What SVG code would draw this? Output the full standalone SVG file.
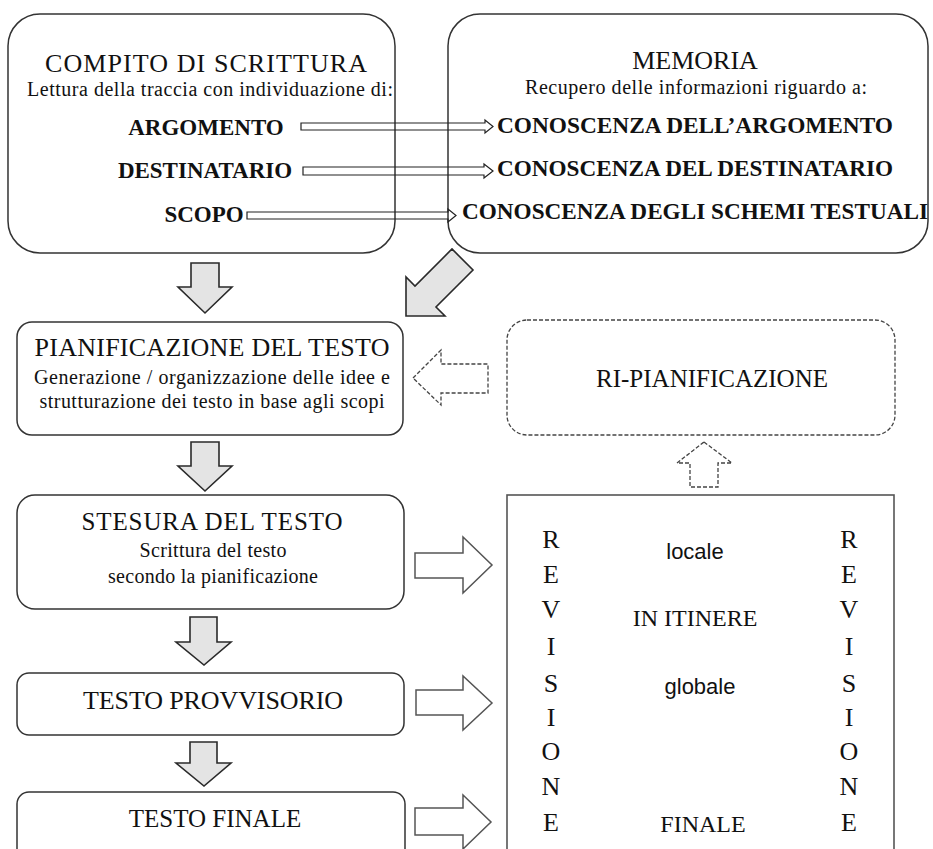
<svg xmlns="http://www.w3.org/2000/svg" width="933" height="849" viewBox="0 0 933 849">
<style>
.box{fill:#fff;stroke:#333;stroke-width:1.5}
.dbox{fill:#fff;stroke:#444;stroke-width:1.3;stroke-dasharray:4 2}
.rbox{fill:#fff;stroke:#555;stroke-width:1.6}
.garrow{fill:#e4e4e4;stroke:#2a2a2a;stroke-width:1.6;stroke-linejoin:miter}
.warrow{fill:#fff;stroke:#555;stroke-width:1.5}
.darrow{fill:#fff;stroke:#444;stroke-width:1.3;stroke-dasharray:4 2}
.tarrow{fill:none;stroke:#222;stroke-width:1.2}
.serif{font-family:'Liberation Serif','Times New Roman','DejaVu Serif',serif}
text{fill:#111;text-anchor:middle}
.title{font-size:26px}
.sub{font-size:20px}
.bold{font-size:23px;font-weight:bold}
.sans{font-family:'Liberation Sans',Arial,sans-serif;font-size:22px}
.let{font-size:26px}
</style>
<g class="serif" font-family="Liberation Serif, Times New Roman, DejaVu Serif, serif">
<g id="compito">
<rect class="box" x="8" y="14" width="387" height="239" rx="32"/>
<text class="title" x="206" y="72" textLength="322" lengthAdjust="spacing">COMPITO  DI  SCRITTURA</text>
<text class="sub" x="210" y="96" textLength="366" lengthAdjust="spacing">Lettura della traccia con individuazione di:</text>
<text class="bold" x="206" y="135">ARGOMENTO</text>
<text class="bold" x="205" y="178">DESTINATARIO</text>
<text class="bold" x="204" y="222">SCOPO</text>
</g>
<g id="memoria">
<rect class="box" x="448" y="14" width="480" height="239" rx="32"/>
<text class="title" x="695" y="69">MEMORIA</text>
<text class="sub" x="696" y="94" textLength="342" lengthAdjust="spacing">Recupero delle informazioni riguardo a:</text>
<text class="bold" x="695" y="133" textLength="396" lengthAdjust="spacingAndGlyphs">CONOSCENZA DELL’ARGOMENTO</text>
<text class="bold" x="695" y="176" textLength="396" lengthAdjust="spacingAndGlyphs">CONOSCENZA DEL DESTINATARIO</text>
<text class="bold" x="695" y="219" textLength="466" lengthAdjust="spacingAndGlyphs">CONOSCENZA DEGLI SCHEMI TESTUALI</text>
</g>
<g id="pianificazione">
<rect class="box" x="17" y="322" width="386" height="113" rx="15"/>
<text class="title" x="212" y="356" textLength="355" lengthAdjust="spacing">PIANIFICAZIONE  DEL  TESTO</text>
<text class="sub" x="212" y="384" textLength="356" lengthAdjust="spacing">Generazione / organizzazione  delle idee e</text>
<text class="sub" x="212" y="408" textLength="345" lengthAdjust="spacing">strutturazione  dei testo in base agli scopi</text>
</g>
<g id="ripianificazione">
<rect class="dbox" x="507" y="320" width="388" height="115" rx="20"/>
<text class="title" x="712" y="387" style="font-size:25px">RI-PIANIFICAZIONE</text>
</g>
<g id="stesura">
<rect class="box" x="17" y="495" width="387" height="114" rx="18"/>
<text class="title" x="212" y="530" style="font-size:25px" textLength="261" lengthAdjust="spacing">STESURA  DEL  TESTO</text>
<text class="sub" x="213" y="557" textLength="147" lengthAdjust="spacing">Scrittura  del testo</text>
<text class="sub" x="213" y="583" textLength="210" lengthAdjust="spacing">secondo la pianificazione</text>
</g>
<g id="provvisorio">
<rect class="box" x="17" y="673" width="387" height="62" rx="12"/>
<text class="title" x="213" y="709" textLength="260" lengthAdjust="spacing">TESTO PROVVISORIO</text>
</g>
<g id="finale">
<rect class="box" x="17" y="792" width="388" height="80" rx="12"/>
<text class="title" x="215" y="827" style="font-size:25px">TESTO FINALE</text>
</g>
<g id="revisione">
<rect class="rbox" x="507" y="495" width="387" height="380"/>
<g class="let">
<text x="551" y="548">R</text><text x="551" y="583">E</text><text x="551" y="618">V</text><text x="551" y="655">I</text><text x="551" y="692">S</text><text x="551" y="726">I</text><text x="551" y="760">O</text><text x="551" y="795">N</text><text x="551" y="831">E</text>
<text x="849" y="548">R</text><text x="849" y="583">E</text><text x="849" y="618">V</text><text x="849" y="655">I</text><text x="849" y="692">S</text><text x="849" y="726">I</text><text x="849" y="760">O</text><text x="849" y="795">N</text><text x="849" y="831">E</text>
</g>
<text class="sans" x="695" y="559">locale</text>
<text x="695" y="626" style="font-size:24px">IN ITINERE</text>
<text class="sans" x="700" y="694">globale</text>
<text x="703" y="832" style="font-size:24px">FINALE</text>
</g>
</g>
<g id="connectors">
<path class="tarrow" d="M301,123 H485 V120 L493,126.5 L485,133 V130 H301 Z"/>
<path class="tarrow" d="M303,167 H484 V164 L493,171 L484,178 V175 H303 Z"/>
<path class="tarrow" d="M247,212 H448 V209 L456,215.5 L448,222 V219 H247 Z"/>
<path class="garrow" d="M191,263 H219 V287 H232 L205,313 L178,287 H191 Z"/>
<path class="garrow" d="M406,316 L406,277 L415,286 L452,249 L473,270 L436,307 L445,316 Z"/>
<path class="garrow" d="M191,442 H219 V466 H232 L205,491 L178,466 H191 Z"/>
<path class="garrow" d="M190,617 H217 V642 H231 L204,665 L176,642 H190 Z"/>
<path class="garrow" d="M190,742 H217 V763 H231 L204,786 L176,763 H190 Z"/>
<path class="darrow" d="M413,378 L441,350 V364 H488 V393 H441 V405 Z"/>
<path class="darrow" d="M704,442 L732,463 H718 V487 H690 V463 H677 Z"/>
<path class="warrow" d="M415,553 H463 V537 L492,565 L463,593 V578 H415 Z"/>
<path class="warrow" d="M416,690 H463 V676 L492,703 L463,730 V715 H416 Z"/>
<path class="warrow" d="M415,808 H463 V795 L491,822 L463,849 V835 H415 Z"/>
</g>
</svg>
